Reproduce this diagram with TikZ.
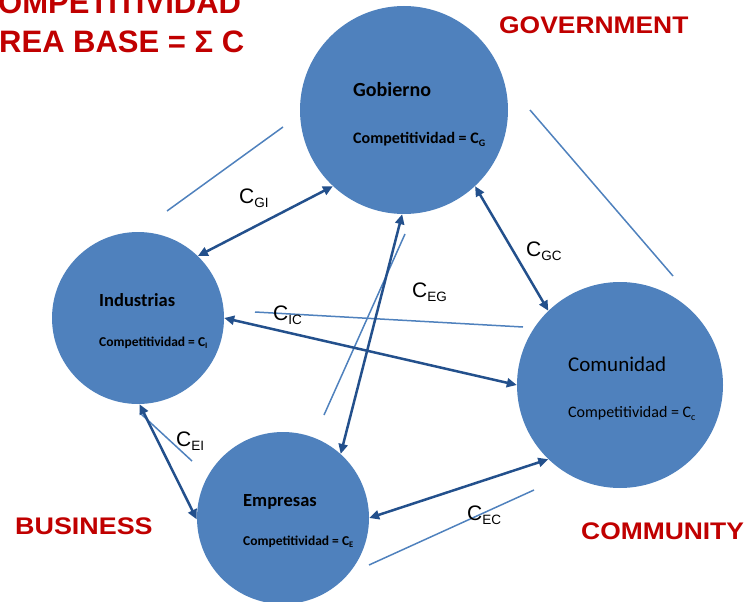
\documentclass[tikz,border=0pt]{standalone}
\usepackage{fontspec}
\setmainfont{Carlito}
\newfontfamily\arialf{Liberation Sans}
\usetikzlibrary{arrows.meta}
\definecolor{circfill}{RGB}{79,129,189}
\definecolor{arrowblue}{RGB}{35,80,140}
\definecolor{thinblue}{RGB}{79,129,189}
\definecolor{redlab}{RGB}{192,0,0}
\newcommand{\lowtxt}[3]{\raisebox{-#1}{\fontsize{#2}{#2}\selectfont #3}}
\tikzset{
  bubble/.style={circle, fill=circfill, draw=none, inner sep=0pt},
  txt/.style={anchor=base west, inner sep=0pt, text=black},
  redtxt/.style={anchor=base west, inner sep=0pt, text=redlab, font=\arialf\bfseries},
  conlab/.style={anchor=base west, inner sep=0pt, text=black, font=\arialf\fontsize{21}{21}\selectfont},
  conn/.style={draw=arrowblue, line width=2.5pt, {Triangle[length=10pt,width=9pt]}-{Triangle[length=10pt,width=9pt]}},
  deco/.style={draw=thinblue, line width=1.5pt}
}
\begin{document}
\begin{tikzpicture}[x=1pt,y=-1pt]
\useasboundingbox (0,0) rectangle (747,602);
% circles
\node[bubble, minimum size=208pt] (gob) at (404,110) {};
\node[bubble, minimum size=172pt] (ind) at (138,318) {};
\node[bubble, minimum size=172pt] (emp) at (283,518) {};
\node[bubble, minimum size=206pt] (com) at (620,385) {};
% circle texts
\node[txt, font=\fontsize{20}{20}\bfseries\selectfont] (gobname) at (353,96) {Gobierno};
\node[txt, font=\fontsize{16}{16}\bfseries\selectfont] (gobcomp) at (353,143) {Competitividad = C\lowtxt{3pt}{10}{G}};
\node[txt, font=\fontsize{18.5}{18.5}\bfseries\selectfont] (indname) at (99,306) {Industrias};
\node[txt, font=\fontsize{13.5}{13.5}\bfseries\selectfont] (indcomp) at (99,346) {Competitividad = C\lowtxt{2.5pt}{8.5}{I}};
\node[txt, font=\fontsize{18.5}{18.5}\bfseries\selectfont] (empname) at (243,506) {Empresas};
\node[txt, font=\fontsize{13.5}{13.5}\bfseries\selectfont] (empcomp) at (243,545) {Competitividad = C\lowtxt{2.5pt}{8.5}{E}};
\node[txt, font=\fontsize{21}{21}\selectfont] (comname) at (568,371) {Comunidad};
\node[txt, font=\fontsize{16}{16}\selectfont] (comcomp) at (568,417) {Competitividad = C\lowtxt{3pt}{10}{c}};
% decorative thin lines
\coordinate (d1a) at (167,211); \coordinate (d1b) at (283,127);
\coordinate (d2a) at (530,110); \coordinate (d2b) at (673,276);
\coordinate (d3a) at (255,312); \coordinate (d3b) at (523,327);
\coordinate (d4a) at (324,415); \coordinate (d4b) at (405,234);
\coordinate (d5a) at (140,413); \coordinate (d5b) at (192,461);
\coordinate (d6a) at (369,565); \coordinate (d6b) at (534,490);
\draw[deco] (d1a) -- (d1b);
\draw[deco] (d2a) -- (d2b);
\draw[deco] (d3a) -- (d3b);
\draw[deco] (d4a) -- (d4b);
\draw[deco] (d5a) -- (d5b);
\draw[deco] (d6a) -- (d6b);
% connectors
\draw[conn] (ind.46) -- (gob.227);
\draw[conn] (gob.313) -- (com.134);
\draw[conn] (ind.0) -- (com.180);
\draw[conn] (emp.48) -- (gob.269);
\draw[conn] (ind.271) -- (emp.181);
\draw[conn] (emp.0) -- (com.226);
% connector labels
\node[conlab] (lgi) at (239,203) {C\lowtxt{4.5pt}{13.5}{GI}};
\node[conlab] (lgc) at (526,256) {C\lowtxt{4.5pt}{13.5}{GC}};
\node[conlab] (leg) at (412,297) {C\lowtxt{4.5pt}{13.5}{EG}};
\node[conlab] (lic) at (273,320) {C\lowtxt{4.5pt}{13.5}{IC}};
\node[conlab] (lei) at (176,446) {C\lowtxt{4.5pt}{13.5}{EI}};
\node[conlab] (lec) at (467,520) {C\lowtxt{4.5pt}{13.5}{EC}};
% red labels
\node[redtxt, font=\arialf\bfseries\fontsize{31}{31}\selectfont] (title1) at (-2,14) {OMPETITIVIDAD};
\node[redtxt, font=\arialf\bfseries\fontsize{31}{31}\selectfont] (title2) at (-1,53) {REA BASE = Σ C};
\node[redtxt, font=\arialf\bfseries\fontsize{24}{24}\selectfont] (govt) at (499,34) {\scalebox{1.1}[1]{GOVERNMENT}};
\node[redtxt, font=\arialf\bfseries\fontsize{24}{24}\selectfont] (bus) at (15,534) {\scalebox{1.12}[1]{BUSINESS}};
\node[redtxt, font=\arialf\bfseries\fontsize{24}{24}\selectfont] (comm) at (581,539) {\scalebox{1.1}[1]{COMMUNITY}};
\end{tikzpicture}
\end{document}
